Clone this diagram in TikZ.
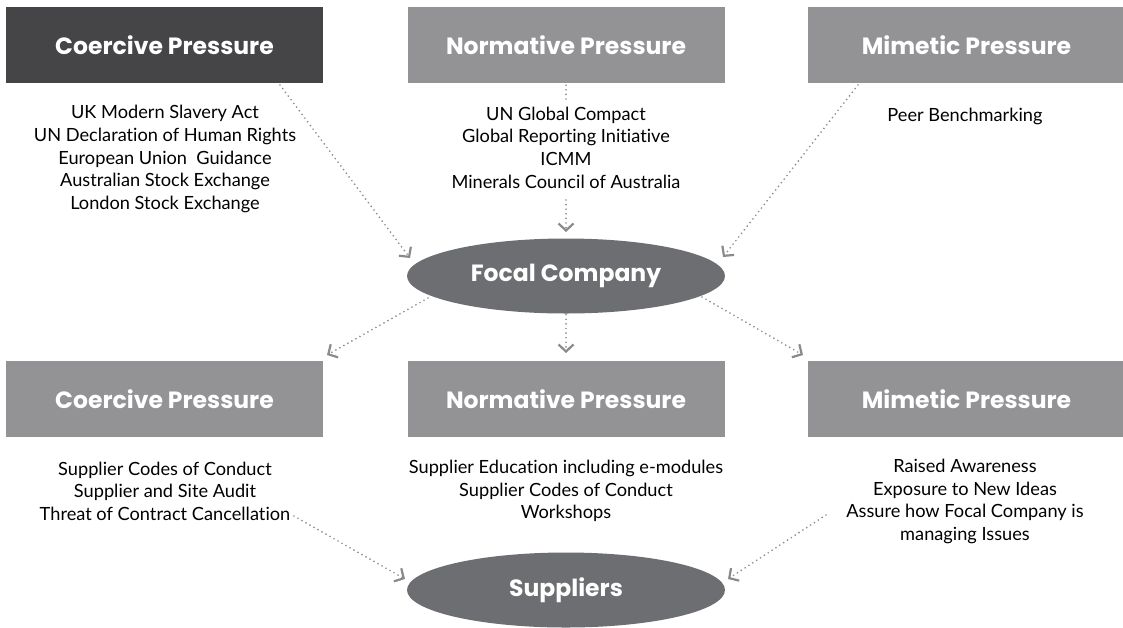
\documentclass[tikz,border=0pt]{standalone}
\usepackage{fontspec}
\setmainfont{Lato}[Ligatures=NoCommon]
\newfontfamily\headfont{Poppins}[Ligatures=NoCommon]
\usetikzlibrary{arrows.meta,shapes.geometric}
\definecolor{darkbox}{HTML}{454547}
\definecolor{lightbox}{HTML}{939396}
\definecolor{ellfill}{HTML}{6D6E71}
\definecolor{dotcol}{HTML}{8E8E90}
\definecolor{tipcol}{HTML}{8A8A8C}
\begin{document}
\begin{tikzpicture}[x=1pt,y=-1pt,
  hbox/.style={rectangle, fill=lightbox, minimum width=317pt, minimum height=76pt, inner sep=0pt,
    text=white, font=\headfont\bfseries\fontsize{23.5}{26}\selectfont},
  oval/.style={ellipse, fill=ellfill, minimum width=318pt, minimum height=75pt, inner sep=0pt,
    text=white, font=\headfont\bfseries\fontsize{23.5}{26}\selectfont},
  listtxt/.style={align=center, text=black, font=\fontsize{18.2}{22.6}\selectfont, inner sep=2pt},
  flow/.style={draw=dotcol, line width=1.9pt, line cap=round, dash pattern=on 0pt off 4.6pt,
    -{Straight Barb[length=7pt, width=15pt, line width=2.2pt, color=tipcol]}},
  plain/.style={draw=dotcol, line width=1.9pt, line cap=round, dash pattern=on 0pt off 4.6pt}
]
\useasboundingbox (0,0) rectangle (1123,627);

% top boxes
\node[hbox, fill=darkbox] (ct) at (164.5,45) {Coercive Pressure};
\node[hbox] (nt) at (566,45) {Normative Pressure};
\node[hbox] (mt) at (966.5,45) {Mimetic Pressure};

% top lists
\node[listtxt] (ctl) at (165,159) {UK Modern Slavery Act\\UN Declaration of Human Rights\\European Union~ Guidance\\Australian Stock Exchange\\London Stock Exchange};
\node[listtxt] (ntl) at (566,147.5) {UN Global Compact\\Global Reporting Initiative\\ICMM\\Minerals Council of Australia};
\node[listtxt] (mtl) at (965,116) {Peer Benchmarking};

% focal company
\node[oval] (fc) at (566,276) {Focal Company};

% bottom boxes
\node[hbox] (cb) at (164.5,399) {Coercive Pressure};
\node[hbox] (nb) at (566,399) {Normative Pressure};
\node[hbox] (mb) at (966.5,399) {Mimetic Pressure};

% bottom lists
\node[listtxt] (cbl) at (165,491) {Supplier Codes of Conduct\\Supplier and Site Audit\\Threat of Contract Cancellation};
\node[listtxt] (nbl) at (566,491) {Supplier Education including e-modules\\Supplier Codes of Conduct\\Workshops};
\node[listtxt] (mbl) at (965,501.5) {Raised Awareness\\Exposure to New Ideas\\Assure how Focal Company is\\managing Issues};

% suppliers
\node[oval] (sp) at (566,590) {Suppliers};

% connector coordinates
\coordinate (s1) at (280,85);
\coordinate (t1) at (410,258);
\coordinate (n1) at (566,101);
\coordinate (n2) at (566,200);
\coordinate (t2) at (566,232);
\coordinate (s3) at (858,85);
\coordinate (t3) at (723,257);
\coordinate (s4) at (428,298);
\coordinate (t4) at (327,355);
\coordinate (t5) at (566,353);
\coordinate (s6) at (702,297);
\coordinate (t6) at (803,355);
\coordinate (s7) at (294,516);
\coordinate (t7) at (405,579);
\coordinate (s8) at (826,515);
\coordinate (t8) at (728,579);

% connectors
\draw[flow] (s1) -- (t1);
\draw[plain] ([yshift=-2pt]nt.south) -- (n1);
\draw[flow] (n2) -- (t2);
\draw[flow] (s3) -- (t3);
\draw[flow] (s4) -- (t4);
\draw[flow] ([yshift=-1pt]fc.south) -- (t5);
\draw[flow] (s6) -- (t6);
\draw[flow] (s7) -- (t7);
\draw[flow] (s8) -- (t8);
\end{tikzpicture}
\end{document}
